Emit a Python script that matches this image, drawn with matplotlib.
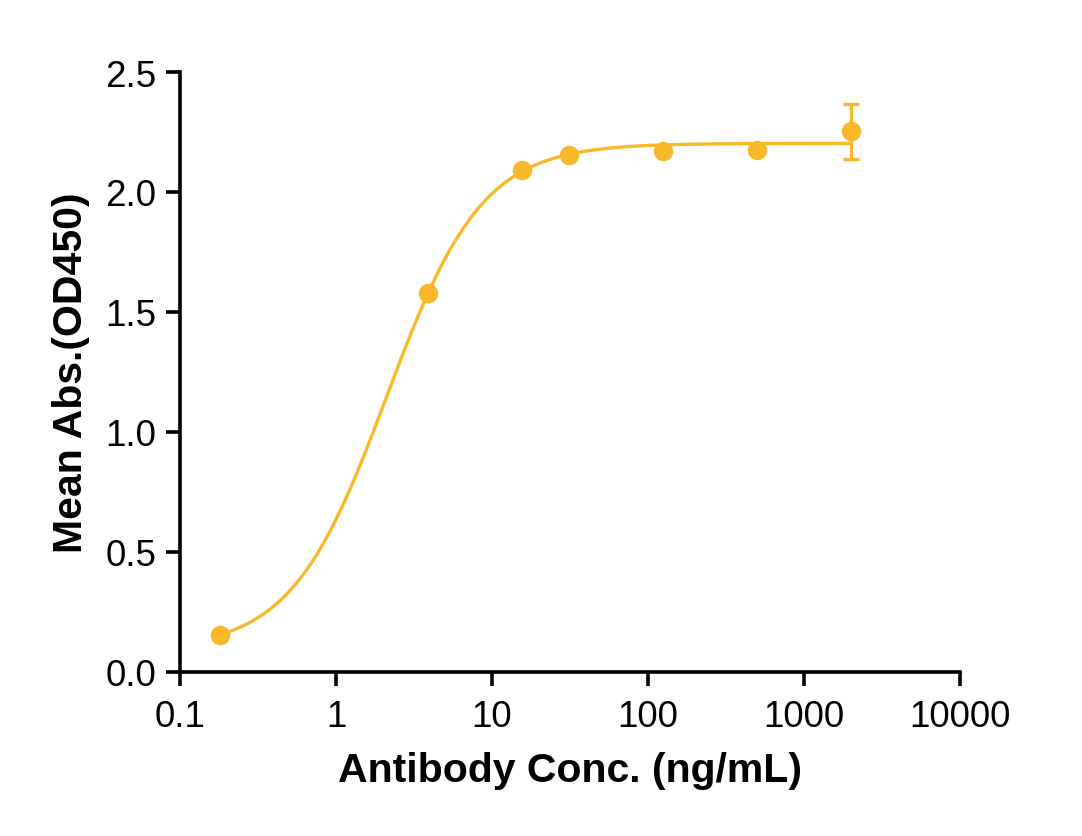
import numpy as np
import matplotlib
matplotlib.use("Agg")
import matplotlib.pyplot as plt

# ---- data ----
conc = [0.18, 3.9, 15.6, 31.25, 125, 500, 2000]
mean_abs = [0.154, 1.578, 2.092, 2.153, 2.171, 2.175, 2.252]
err = [0.0, 0.0, 0.0, 0.0, 0.0, 0.0, 0.113]
xticks = [0.1, 1, 10, 100, 1000, 10000]
xticklabels = ["0.1", "1", "10", "100", "1000", "10000"]
yticks = [0.0, 0.5, 1.0, 1.5, 2.0, 2.5]
yticklabels = ["0.0", "0.5", "1.0", "1.5", "2.0", "2.5"]

COLOR = "#F9B82A"

# ---- 4PL fit (Levenberg-Marquardt in numpy) ----
x = np.array(conc, dtype=float)
y = np.array(mean_abs, dtype=float)


def f4pl(p, xx):
    bottom, top, logc, hill = p
    return top + (bottom - top) / (1.0 + (xx / 10 ** logc) ** hill)


p = np.array([0.0, 2.2, np.log10(2.0), 1.5])
lam = 1e-2
for _ in range(500):
    r = y - f4pl(p, x)
    J = np.zeros((len(x), 4))
    for k in range(4):
        dp = np.zeros(4)
        dp[k] = 1e-6
        J[:, k] = (f4pl(p + dp, x) - f4pl(p - dp, x)) / 2e-6
    A = J.T @ J
    g = J.T @ r
    step = np.linalg.solve(A + lam * np.diag(np.diag(A) + 1e-12), g)
    pn = p + step
    if np.sum((y - f4pl(pn, x)) ** 2) < np.sum(r ** 2):
        p = pn
        lam *= 0.5
    else:
        lam *= 4
    if np.linalg.norm(step) < 1e-12:
        break

xs = np.logspace(np.log10(x.min()), np.log10(x.max()), 400)
ys = f4pl(p, xs)

# ---- plot ----
plt.rcParams["font.family"] = ["Liberation Sans", "DejaVu Sans"]
fig = plt.figure(figsize=(10.82, 8.37), dpi=100)
ax = fig.add_axes([180 / 1082, 1 - 672.7 / 837, 780 / 1082, 599.7 / 837])

ax.plot(xs, ys, color=COLOR, lw=2.4, zorder=2)
ax.errorbar(conc, mean_abs, yerr=err, fmt="o", color=COLOR, ms=13,
            elinewidth=2.4, capsize=6, capthick=2.4, zorder=3)

ax.set_xscale("log")
ax.set_xlim(0.1, 10000)
ax.set_ylim(0, 2.5)
ax.set_xticks(xticks)
ax.set_xticklabels(xticklabels)
ax.xaxis.set_minor_locator(matplotlib.ticker.NullLocator())
ax.set_yticks(yticks)
ax.set_yticklabels(yticklabels)

for s in ["top", "right"]:
    ax.spines[s].set_visible(False)
for s in ["left", "bottom"]:
    ax.spines[s].set_linewidth(2.6)
ax.tick_params(axis="both", width=2.6, length=10, labelsize=26.5, direction="out")
ax.tick_params(axis="x", pad=10)
ax.tick_params(axis="y", pad=7)

ax.set_xlabel("Antibody Conc. (ng/mL)", fontsize=29.5, fontweight="bold", labelpad=12)
ax.set_ylabel("Mean Abs.(OD450)", fontsize=29.5, fontweight="bold", labelpad=11)

fig.savefig("out.png", dpi=100)
